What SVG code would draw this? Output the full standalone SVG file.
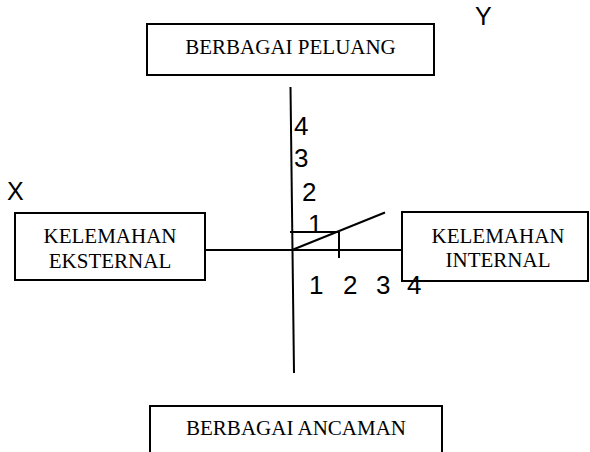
<svg xmlns="http://www.w3.org/2000/svg" width="590" height="452" viewBox="0 0 590 452">
  <style>
    .box { fill: #ffffff; stroke: #000000; stroke-width: 2; }
    .lbl { font-family: "Liberation Serif", "Times New Roman", serif; font-size: 21px; fill: #000000; text-anchor: middle; }
    .num { font-family: "Liberation Sans", Arial, sans-serif; font-size: 26px; fill: #000000; }
    .ax { font-family: "Liberation Sans", Arial, sans-serif; font-size: 25px; fill: #000000; }
    .ln { stroke: #000000; stroke-width: 2; fill: none; }
  </style>
  <rect width="590" height="452" fill="#ffffff"/>

  <!-- axes and plotted guides -->
  <g id="connectors">
    <line class="ln" x1="290.5" y1="87" x2="294" y2="373"/>
    <line class="ln" x1="205" y1="250" x2="402" y2="250"/>
    <line class="ln" x1="290" y1="232" x2="339" y2="232"/>
    <line class="ln" x1="339" y1="232" x2="339" y2="258"/>
    <line class="ln" x1="292" y1="250" x2="385" y2="212.5"/>
  </g>

  <g id="peluang">
    <rect class="box" x="147" y="24" width="287" height="51"/>
    <text class="lbl" x="290.5" y="54">BERBAGAI PELUANG</text>
  </g>

  <g id="kelemahan-eksternal">
    <rect class="box" x="15" y="213" width="190" height="67"/>
    <text class="lbl" x="110" y="243">KELEMAHAN</text>
    <text class="lbl" x="110" y="268">EKSTERNAL</text>
  </g>

  <g id="kelemahan-internal">
    <rect class="box" x="402" y="212" width="186" height="69"/>
    <text class="lbl" x="498" y="243">KELEMAHAN</text>
    <text class="lbl" x="498" y="267">INTERNAL</text>
  </g>

  <g id="ancaman">
    <rect class="box" x="150" y="406" width="292" height="56"/>
    <text class="lbl" x="296" y="435">BERBAGAI ANCAMAN</text>
  </g>

  <!-- axis names -->
  <text class="ax" x="7" y="200">X</text>
  <text class="ax" x="475" y="25">Y</text>

  <!-- vertical scale -->
  <text class="num" x="294" y="135">4</text>
  <text class="num" x="294" y="167">3</text>
  <text class="num" x="302" y="201">2</text>
  <text class="num" x="308" y="233">1</text>

  <!-- horizontal scale -->
  <text class="num" x="309" y="294">1</text>
  <text class="num" x="343" y="294">2</text>
  <text class="num" x="376" y="294">3</text>
  <text class="num" x="407" y="294">4</text>
</svg>
